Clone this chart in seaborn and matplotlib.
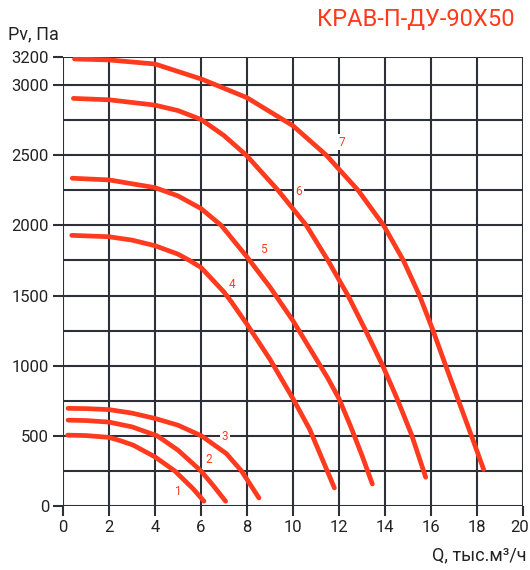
import matplotlib
matplotlib.use("Agg")
import matplotlib.pyplot as plt
import matplotlib.transforms as mtransforms
from matplotlib import font_manager
import seaborn as sns
import pandas as pd
import numpy as np

# Fan curves: airflow Q (thousand m³/h) vs static pressure Pv (Pa)
q1 = [0.2, 1, 2, 2.5, 3.05, 4, 4.86, 5.65, 6.13]
p1 = [505, 502, 489, 465, 434, 350, 250, 124, 34]
q2 = [0.22, 1, 2, 3, 4.1, 5, 6, 6.52, 7.07]
p2 = [612, 609, 598, 564, 500, 398, 250, 148, 34]
q3 = [0.22, 1, 2, 3, 4, 5, 6.02, 7.1, 7.76, 8.52]
p3 = [696, 694, 687, 662, 624, 576, 500, 374, 250, 57]
q4 = [0.38, 2, 3, 4, 5, 5.5, 6, 7, 7.32, 8, 9, 10, 10.73, 11.8]
p4 = [1929, 1919, 1895, 1855, 1795, 1750, 1700, 1525, 1455, 1295, 1045, 765,
      545, 129]
q5 = [0.4, 2, 4, 5, 6, 6.88, 8, 9, 10, 11, 11.5, 12, 12.5, 13, 13.45]
p5 = [2336, 2324, 2269, 2210, 2120, 2000, 1775, 1560, 1320, 1050, 915, 765,
      570, 360, 157]
q6 = [0.45, 2, 4, 5, 6, 7, 7.97, 9.35, 10.58, 11.52, 12.39, 13.16, 13.9,
      14.5, 15.15, 15.77]
p6 = [2905, 2895, 2857, 2818, 2755, 2640, 2500, 2250, 2000, 1750, 1500, 1250,
      1000, 775, 510, 205]
q7 = [0.5, 2, 4, 6.05, 8, 10, 11.45, 12.83, 13.94, 14.8, 15.5, 16.09, 16.64,
      17.22, 17.76, 18.29]
p7 = [3186, 3179, 3150, 3041, 2910, 2710, 2500, 2250, 2000, 1750, 1500, 1250,
      1000, 740, 500, 260]

curve_names = ["1", "2", "3", "4", "5", "6", "7"]
label_q = [5.02, 6.33, 7.03, 7.34, 8.73, 10.26, 12.14]
label_p = [100, 329, 493, 1579, 1829, 2243, 2593]

x_ticks = [0, 2, 4, 6, 8, 10, 12, 14, 16, 18, 20]
y_ticks = [0, 500, 1000, 1500, 2000, 2500, 3000, 3200]
title = "КРАВ-П-ДУ-90Х50"
x_label = "Q, тыс.м³/ч"
y_label = "Pv, Па"

frames = []
for name, q, p in zip(curve_names, [q1, q2, q3, q4, q5, q6, q7],
                      [p1, p2, p3, p4, p5, p6, p7]):
    frames.append(pd.DataFrame({"Q": q, "Pv": p, "curve": name}))
df = pd.concat(frames, ignore_index=True)

sns.set_theme(style="white")
available = {f.name for f in font_manager.fontManager.ttflist}
family = ["Liberation Sans Narrow", "Roboto", "DejaVu Sans"]
family = [f for f in family if f in available] + ["DejaVu Sans"]
plt.rcParams["font.family"] = family

RED = "#ff3a1e"
GRID = "#2e3038"

fig = plt.figure(figsize=(5.3, 5.7), dpi=100)
ax = fig.add_axes([63 / 530, 64 / 570, 460 / 530, 449 / 570])

# grid every 2 units on Q and every 250 Pa on Pv
for xv in np.arange(0, 20.01, 2):
    ax.axvline(xv, color=GRID, lw=1.5, zorder=1)
for yv in np.arange(0, 3001, 250):
    ax.axhline(yv, color=GRID, lw=1.5, zorder=1)
ax.axhline(3200, color=GRID, lw=1.5, zorder=1)

sns.lineplot(data=df, x="Q", y="Pv", hue="curve", sort=False,
             palette=[RED] * 7, lw=3.4, legend=False, ax=ax, zorder=3,
             solid_capstyle="round", solid_joinstyle="round")

for name, xq, yp in zip(curve_names, label_q, label_p):
    ax.text(xq, yp, name, color=RED, fontsize=8.5, ha="center", va="center",
            zorder=4, bbox=dict(facecolor="white", edgecolor="none", pad=1.2))

ax.set_xlim(0, 20)
ax.set_ylim(0, 3200)
ax.set_xticks(x_ticks)
ax.set_yticks(y_ticks)
ax.tick_params(axis="both", direction="out", length=7, width=1.5, color=GRID,
               labelsize=12, labelcolor="#222222", pad=3,
               bottom=True, left=True)
for s in ax.spines.values():
    s.set_visible(False)
ax.set_xlabel("")
ax.set_ylabel("")

# keep the last Q tick label inside the canvas
last = ax.get_xticklabels()[-1]
last.set_horizontalalignment("right")
last.set_transform(last.get_transform() +
                   mtransforms.ScaledTranslation(6 / 100, 0, fig.dpi_scale_trans))

fig.text(8 / 530, 1 - 34 / 570, y_label, fontsize=13, color="#222222",
         ha="left", va="center")
fig.text(527 / 530, 1 - 555 / 570, x_label, fontsize=13, color="#222222",
         ha="right", va="center")
fig.text(515 / 530, 1 - 20 / 570, title, fontsize=17, color=RED,
         ha="right", va="center")

fig.savefig("out.png", dpi=100)
